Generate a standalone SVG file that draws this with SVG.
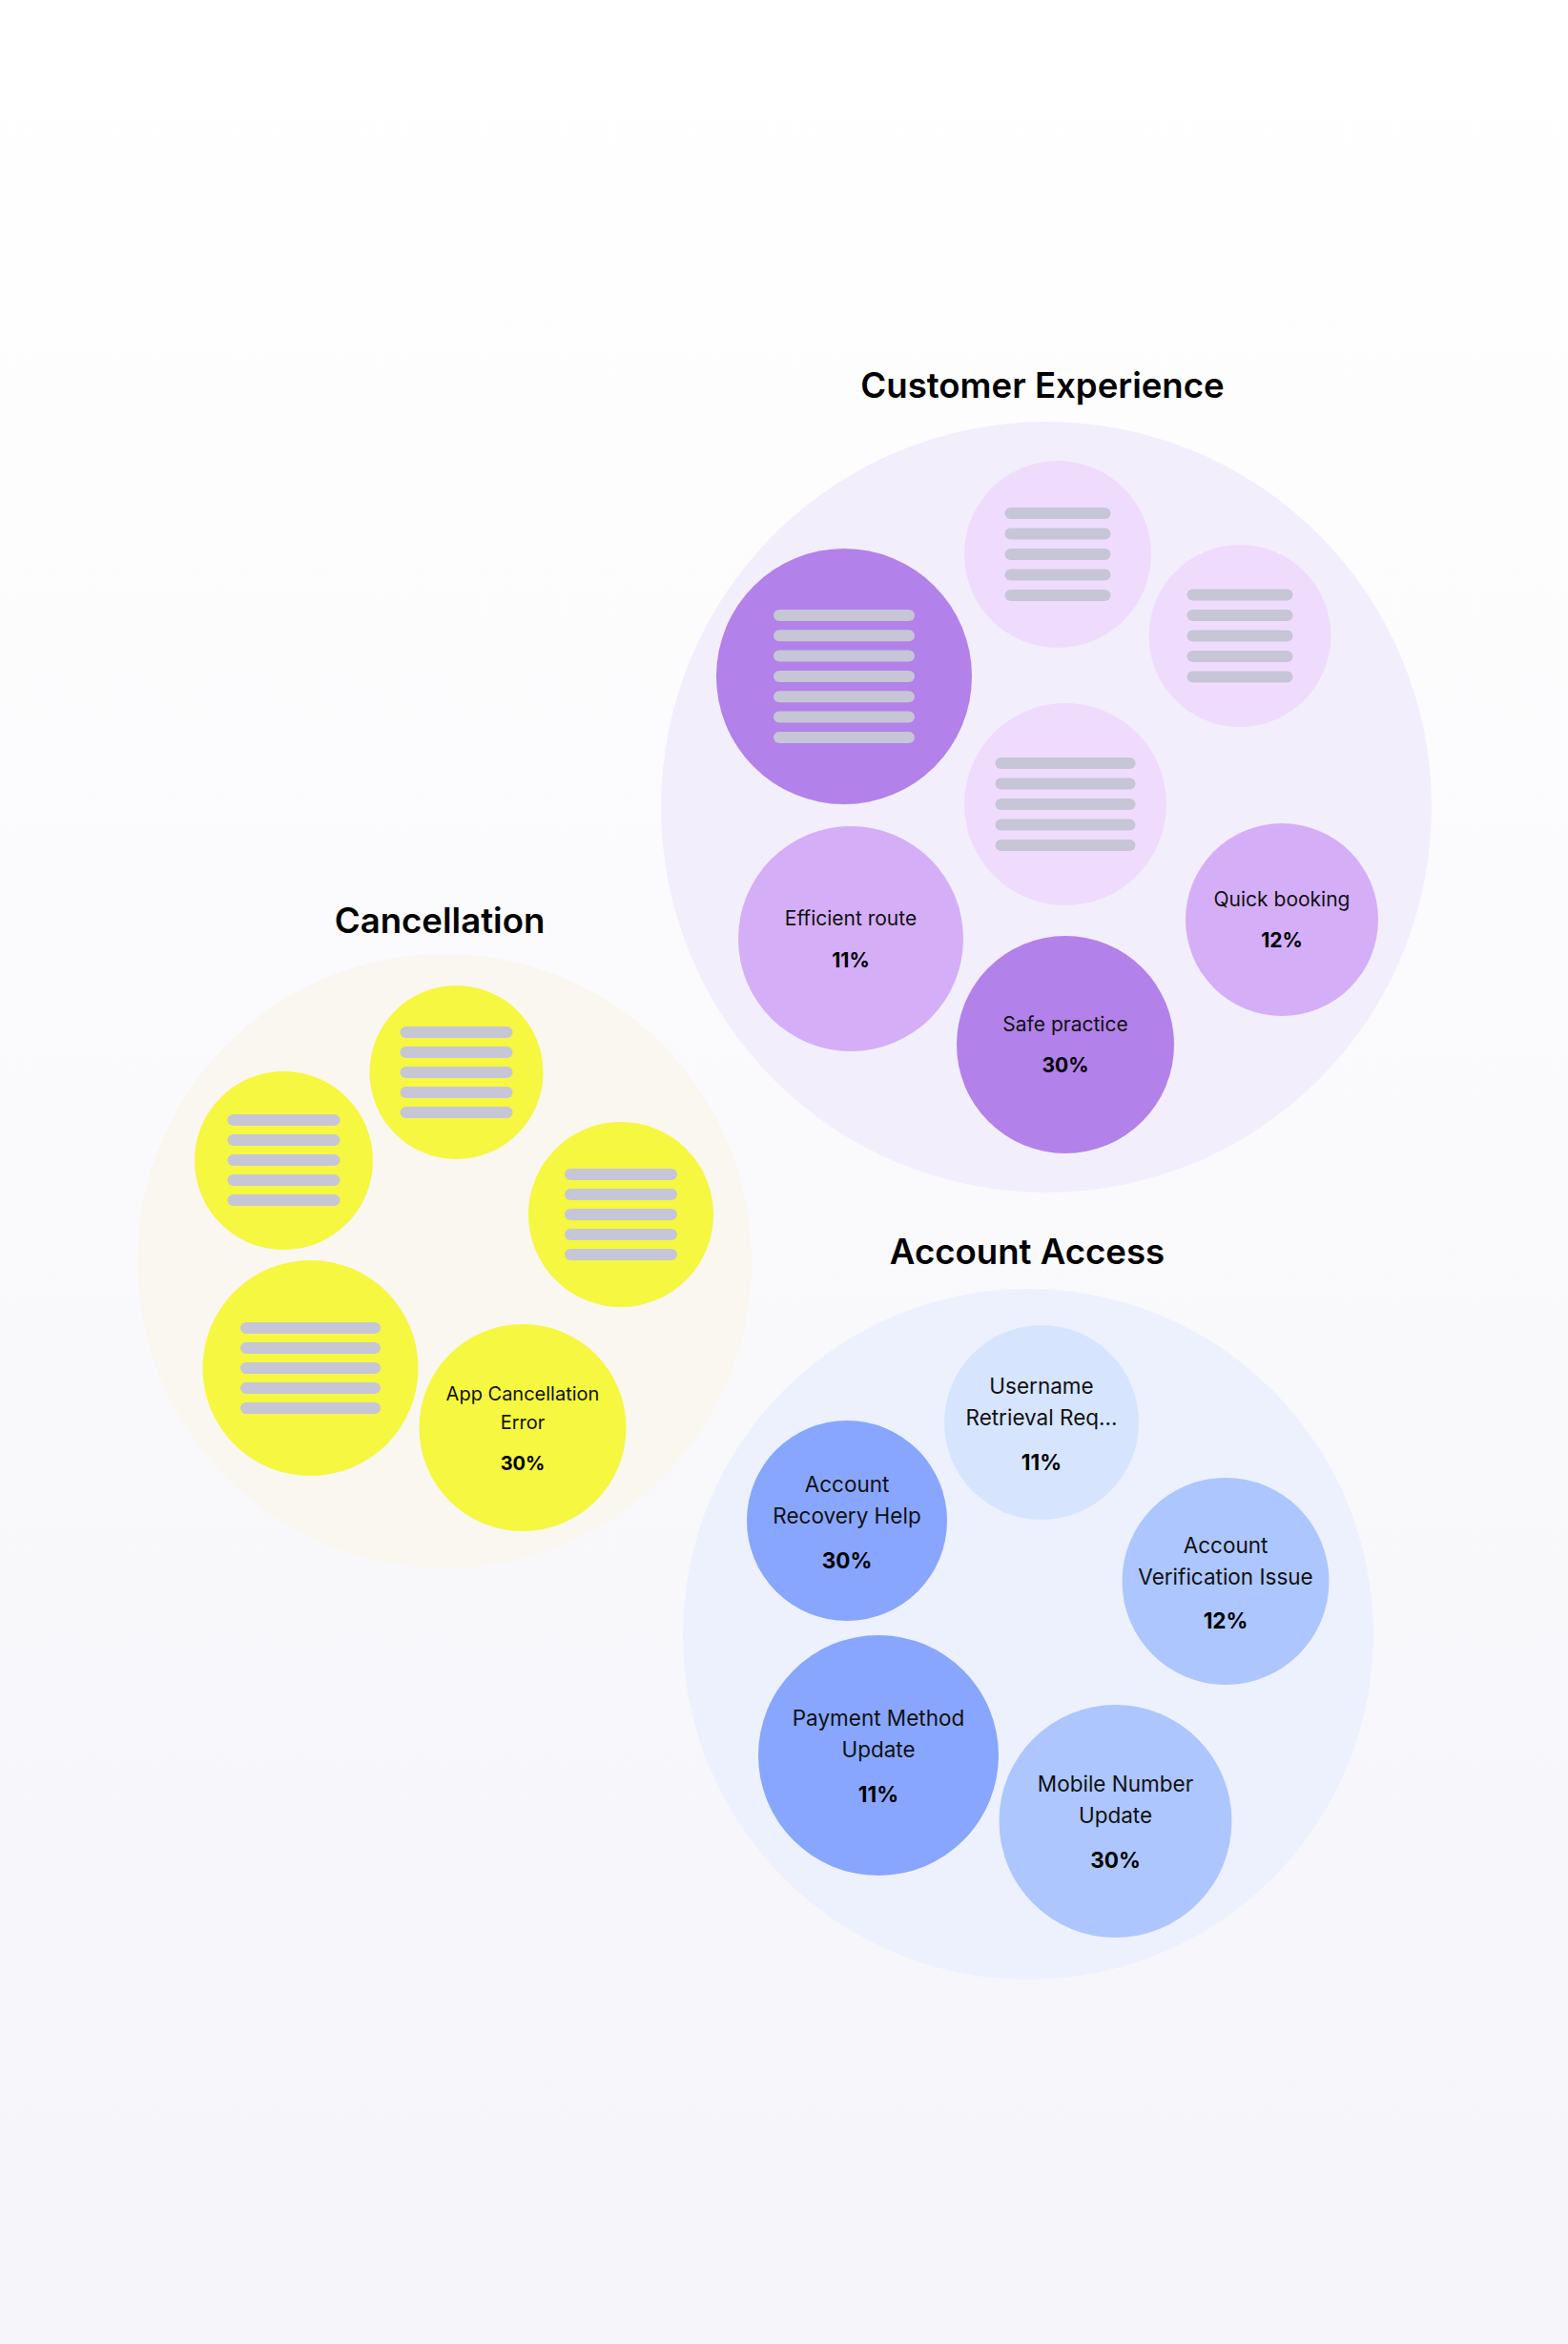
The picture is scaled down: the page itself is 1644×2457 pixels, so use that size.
<svg xmlns="http://www.w3.org/2000/svg" width="1644" height="2457" viewBox="0 0 1644 2457">
<defs>
<linearGradient id="bg" x1="0" y1="0" x2="0" y2="1">
<stop offset="0" stop-color="#FFFFFF"/>
<stop offset="1" stop-color="#F5F5FA"/>
</linearGradient>
</defs>
<style>
.title{font-family:Inter,"Noto Sans",sans-serif;font-weight:600;font-size:36.6px;fill:#000;text-anchor:middle}
.lbl{font-family:Inter,"Noto Sans",sans-serif;font-weight:400;fill:#111;text-anchor:middle}
.pct{font-family:Inter,"Noto Sans",sans-serif;font-weight:700;fill:#000;text-anchor:middle}
.ce{font-size:21px}
.ca{font-size:20px}
.aa{font-size:22.5px}
.ln{fill:#C6C6D6}
.pDark{fill:#B381EA}
.pMid{fill:#D5AEF8}
.pLight{fill:#EFDCFD}
.yel{fill:#F5F740}
.bDark{fill:#88A6FE}
.bMid{fill:#ADC6FE}
.bLight{fill:#D7E4FE}
</style>
<rect x="0" y="0" width="1644" height="2457" fill="url(#bg)"/>

<g id="customer-experience">
<circle cx="1097" cy="846" r="404" fill="#F3EEFC"/>
<text class="title" x="1093" y="417">Customer Experience</text>
<g id="ce-big">
<circle class="pDark" cx="885" cy="709" r="134"/>
<rect class="ln" x="811" y="639" width="148" height="12" rx="6"/>
<rect class="ln" x="811" y="660.3" width="148" height="12" rx="6"/>
<rect class="ln" x="811" y="681.6" width="148" height="12" rx="6"/>
<rect class="ln" x="811" y="703" width="148" height="12" rx="6"/>
<rect class="ln" x="811" y="724.3" width="148" height="12" rx="6"/>
<rect class="ln" x="811" y="745.6" width="148" height="12" rx="6"/>
<rect class="ln" x="811" y="767" width="148" height="12" rx="6"/>
</g>
<g id="ce-top">
<circle class="pLight" cx="1109" cy="581" r="98"/>
<rect class="ln" x="1053.5" y="532" width="111" height="12" rx="6"/>
<rect class="ln" x="1053.5" y="553.5" width="111" height="12" rx="6"/>
<rect class="ln" x="1053.5" y="575" width="111" height="12" rx="6"/>
<rect class="ln" x="1053.5" y="596.5" width="111" height="12" rx="6"/>
<rect class="ln" x="1053.5" y="618" width="111" height="12" rx="6"/>
</g>
<g id="ce-right">
<circle class="pLight" cx="1300" cy="666.5" r="95.5"/>
<rect class="ln" x="1244.5" y="617.5" width="111" height="12" rx="6"/>
<rect class="ln" x="1244.5" y="639" width="111" height="12" rx="6"/>
<rect class="ln" x="1244.5" y="660.5" width="111" height="12" rx="6"/>
<rect class="ln" x="1244.5" y="682" width="111" height="12" rx="6"/>
<rect class="ln" x="1244.5" y="703.5" width="111" height="12" rx="6"/>
</g>
<g id="ce-center">
<circle class="pLight" cx="1117" cy="843" r="106"/>
<rect class="ln" x="1043.5" y="794" width="147" height="12" rx="6"/>
<rect class="ln" x="1043.5" y="815.5" width="147" height="12" rx="6"/>
<rect class="ln" x="1043.5" y="837" width="147" height="12" rx="6"/>
<rect class="ln" x="1043.5" y="858.5" width="147" height="12" rx="6"/>
<rect class="ln" x="1043.5" y="880" width="147" height="12" rx="6"/>
</g>
<g id="ce-efficient-route">
<circle class="pMid" cx="892" cy="984" r="118"/>
<text class="lbl ce" x="892" y="969.5">Efficient route</text>
<text class="pct ce" x="892" y="1013.5">11%</text>
</g>
<g id="ce-safe-practice">
<circle class="pDark" cx="1117" cy="1095" r="114"/>
<text class="lbl ce" x="1117" y="1080.5">Safe practice</text>
<text class="pct ce" x="1117" y="1123.5">30%</text>
</g>
<g id="ce-quick-booking">
<circle class="pMid" cx="1344" cy="964" r="101"/>
<text class="lbl ce" x="1344" y="949.5">Quick booking</text>
<text class="pct ce" x="1344" y="992.5">12%</text>
</g>
</g>

<g id="cancellation">
<circle cx="466" cy="1322" r="322" fill="#FAF6F0"/>
<text class="title" x="461" y="978">Cancellation</text>
<g id="ca-top">
<circle class="yel" cx="478.5" cy="1124" r="91"/>
<rect class="ln" x="419.5" y="1076" width="118" height="12" rx="6"/>
<rect class="ln" x="419.5" y="1097" width="118" height="12" rx="6"/>
<rect class="ln" x="419.5" y="1118" width="118" height="12" rx="6"/>
<rect class="ln" x="419.5" y="1139" width="118" height="12" rx="6"/>
<rect class="ln" x="419.5" y="1160" width="118" height="12" rx="6"/>
</g>
<g id="ca-left">
<circle class="yel" cx="297.5" cy="1216.5" r="93.5"/>
<rect class="ln" x="238.5" y="1168" width="118" height="12" rx="6"/>
<rect class="ln" x="238.5" y="1189" width="118" height="12" rx="6"/>
<rect class="ln" x="238.5" y="1210" width="118" height="12" rx="6"/>
<rect class="ln" x="238.5" y="1231" width="118" height="12" rx="6"/>
<rect class="ln" x="238.5" y="1252" width="118" height="12" rx="6"/>
</g>
<g id="ca-right">
<circle class="yel" cx="651" cy="1273" r="97"/>
<rect class="ln" x="592" y="1225" width="118" height="12" rx="6"/>
<rect class="ln" x="592" y="1246" width="118" height="12" rx="6"/>
<rect class="ln" x="592" y="1267" width="118" height="12" rx="6"/>
<rect class="ln" x="592" y="1288" width="118" height="12" rx="6"/>
<rect class="ln" x="592" y="1309" width="118" height="12" rx="6"/>
</g>
<g id="ca-big">
<circle class="yel" cx="325.5" cy="1434" r="113"/>
<rect class="ln" x="252" y="1386" width="147" height="12" rx="6"/>
<rect class="ln" x="252" y="1407" width="147" height="12" rx="6"/>
<rect class="ln" x="252" y="1428" width="147" height="12" rx="6"/>
<rect class="ln" x="252" y="1449" width="147" height="12" rx="6"/>
<rect class="ln" x="252" y="1470" width="147" height="12" rx="6"/>
</g>
<g id="ca-app-cancellation-error">
<circle class="yel" cx="548" cy="1496.5" r="108.5"/>
<text class="lbl ca" x="548" y="1467.5">App Cancellation</text>
<text class="lbl ca" x="548" y="1498">Error</text>
<text class="pct ca" x="548" y="1541">30%</text>
</g>
</g>

<g id="account-access">
<circle cx="1078" cy="1713" r="362" fill="#EDF1FD"/>
<text class="title" x="1077" y="1324.5">Account Access</text>
<g id="aa-username">
<circle class="bLight" cx="1092" cy="1491" r="102"/>
<text class="lbl aa" x="1092" y="1460.5">Username</text>
<text class="lbl aa" x="1092" y="1494">Retrieval Req...</text>
<text class="pct aa" x="1092" y="1540.5">11%</text>
</g>
<g id="aa-recovery">
<circle class="bDark" cx="888" cy="1594" r="105"/>
<text class="lbl aa" x="888" y="1564">Account</text>
<text class="lbl aa" x="888" y="1597">Recovery Help</text>
<text class="pct aa" x="888" y="1644">30%</text>
</g>
<g id="aa-verification">
<circle class="bMid" cx="1285" cy="1657.5" r="108.5"/>
<text class="lbl aa" x="1285" y="1628">Account</text>
<text class="lbl aa" x="1285" y="1660.5">Verification Issue</text>
<text class="pct aa" x="1285" y="1707">12%</text>
</g>
<g id="aa-payment">
<circle class="bDark" cx="921" cy="1840" r="126"/>
<text class="lbl aa" x="921" y="1809">Payment Method</text>
<text class="lbl aa" x="921" y="1842">Update</text>
<text class="pct aa" x="921" y="1889">11%</text>
</g>
<g id="aa-mobile">
<circle class="bMid" cx="1169.5" cy="1909" r="122"/>
<text class="lbl aa" x="1169.5" y="1878">Mobile Number</text>
<text class="lbl aa" x="1169.5" y="1911">Update</text>
<text class="pct aa" x="1169.5" y="1958">30%</text>
</g>
</g>

<g id="connectors"></g>
</svg>
